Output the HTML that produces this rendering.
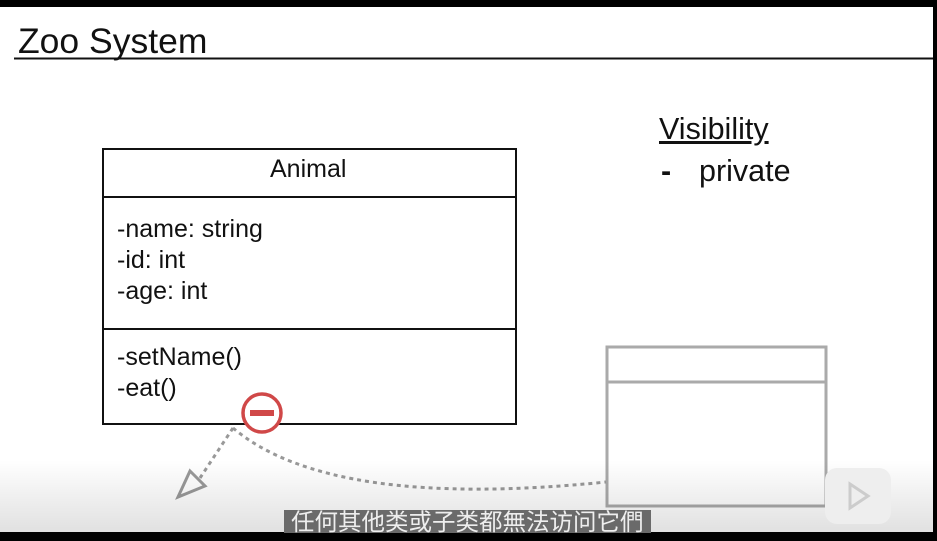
<!DOCTYPE html>
<html><head><style>
body{margin:0;width:937px;height:541px;overflow:hidden;background:#fff;font-family:"Liberation Sans","Noto Sans CJK SC",sans-serif;position:relative}
.t{position:absolute;color:#111;white-space:nowrap}
</style></head><body>
<svg width="937" height="541" style="position:absolute;left:0;top:0">
<defs><linearGradient id="g" x1="0" y1="0" x2="0" y2="1"><stop offset="0" stop-color="#000" stop-opacity="0"/><stop offset="1" stop-color="#000" stop-opacity="0.12"/></linearGradient></defs>
<line x1="14" y1="58.5" x2="937" y2="58.5" stroke="#111" stroke-width="2"/>
<rect x="103" y="149" width="413" height="275" fill="none" stroke="#111" stroke-width="2"/>
<line x1="103" y1="197" x2="516" y2="197" stroke="#111" stroke-width="2"/>
<line x1="103" y1="329" x2="516" y2="329" stroke="#111" stroke-width="2"/>
<rect x="607" y="347" width="219" height="159" fill="none" stroke="#aaa" stroke-width="3"/>
<line x1="607" y1="382" x2="826" y2="382" stroke="#aaa" stroke-width="3"/>
<path d="M233 428 L200 478" stroke="#999" stroke-width="3" stroke-dasharray="4 4" fill="none"/>
<path d="M233 428 Q 330 510 606 482" stroke="#999" stroke-width="3" stroke-dasharray="4 4" fill="none"/>
<polygon points="190,471 205,486 178,497" fill="#fff" stroke="#999" stroke-width="3"/>
<circle cx="262" cy="413" r="19" fill="#fff" stroke="#d04848" stroke-width="3.5"/>
<rect x="250" y="410" width="24" height="6" fill="#d04848"/>
<rect x="0" y="460" width="937" height="72" fill="url(#g)"/>
<rect x="0" y="0" width="937" height="7" fill="#000"/>
<rect x="933" y="0" width="4" height="541" fill="#000"/>
<rect x="0" y="532" width="937" height="9" fill="#000"/>
<rect x="825" y="468" width="66" height="56" rx="12" fill="#eee"/>
<polygon points="850,484 868,496 850,508" fill="none" stroke="#ccc" stroke-width="3"/>
<rect x="284" y="510" width="367" height="23" fill="#6a6a6a"/>
</svg>
<div class="t" style="left:18px;top:21px;font-size:35.5px">Zoo System</div>
<div class="t" style="left:270px;top:155px;font-size:25px">Animal</div>
<div class="t" style="left:117px;top:214px;font-size:25px;line-height:31px">-name: string<br>-id: int<br>-age: int</div>
<div class="t" style="left:117px;top:342px;font-size:25px;line-height:31px">-setName()<br>-eat()</div>
<div class="t" style="left:659px;top:112px;font-size:30.5px;text-decoration:underline">Visibility</div>
<div class="t" style="left:661px;top:154px;font-size:30.5px"><b>-</b></div>
<div class="t" style="left:699px;top:154px;font-size:30.5px">private</div>
<div class="t" style="left:291px;top:509px;font-size:23.5px;color:#eee;line-height:26px">任何其他类或子类都無法访问它們</div>
</body></html>
